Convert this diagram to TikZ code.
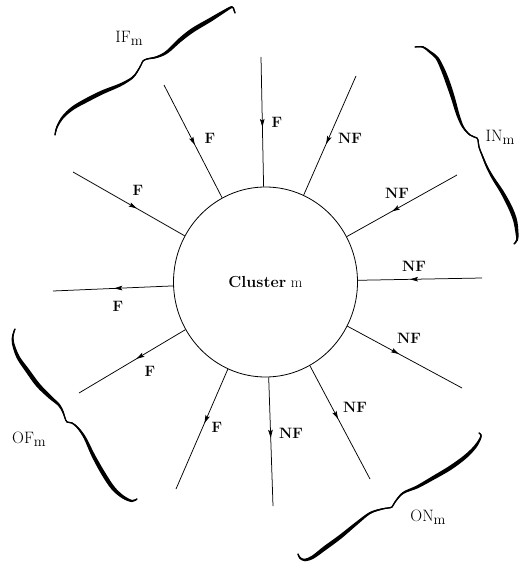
\documentclass[tikz,border=0pt]{standalone}
\usetikzlibrary{arrows.meta,decorations.markings,calc,shapes.geometric}

% ink-style curly brace: a filled stroke of varying half-width
% through the points x/y/halfwidth, plus a thin round-capped core
\newcommand\inkbrace[1]{%
  \foreach [count=\i] \bx/\by/\bw in {#1} {%
    \coordinate (bp\i) at (\bx,\by);
    \expandafter\xdef\csname inkw\i\endcsname{\bw}%
    \xdef\inkn{\i}%
  }%
  \gdef\inkL{}\gdef\inkR{}\gdef\inkC{}%
  \foreach \i in {1,...,\inkn} {%
    \pgfmathtruncatemacro\inknx{min(\i+1,\inkn)}%
    \pgfmathtruncatemacro\inkpv{max(\i-1,1)}%
    \edef\inkhw{\csname inkw\i\endcsname}%
    \coordinate (bt) at ($(bp\i)+(bp\inknx)-(bp\inkpv)$);
    \coordinate (bl\i) at ($(bp\i)!\inkhw pt!90:(bt)$);
    \coordinate (br\i) at ($(bp\i)!\inkhw pt!-90:(bt)$);
    \xdef\inkL{\inkL (bl\i)}%
    \xdef\inkR{(br\i) \inkR}%
    \xdef\inkC{\inkC (bp\i)}%
  }%
  \edef\inkcmd{%
    \noexpand\fill plot[smooth,tension=0.55] coordinates {\inkL}
      -- plot[smooth,tension=0.55] coordinates {\inkR} -- cycle;
    \noexpand\draw[line width=1.3pt,line cap=round,line join=round]
      plot[smooth,tension=0.55] coordinates {\inkC};}%
  \inkcmd
}

\tikzset{
  spoke/.style={line width=0.75pt, postaction={decorate},
    decoration={markings, mark=at position #1 with
      {\arrow{Stealth[length=8pt,width=4.6pt,inset=1.6pt]}}}},
  spoke/.default=0.5,
  tag/.style={font=\fontsize{15}{15}\selectfont\bfseries, inner sep=0pt},
  settag/.style={font=\fontsize{16.5}{16.5}\selectfont, inner sep=0pt},
}
\newcommand\subm{\raisebox{-0.45ex}{\fontsize{14.5}{14.5}\selectfont m}}

\begin{document}
\begin{tikzpicture}[x=1pt,y=-1pt]
\useasboundingbox (0,0) rectangle (523,564);

% the cluster
\node[ellipse, draw, line width=0.8pt, minimum width=184pt, minimum height=190pt,
      inner sep=0pt] (c) at (265.5,282)
  {\fontsize{16}{16}\selectfont\textbf{Cluster}~{\fontsize{15}{15}\selectfont m}};

% free ends of the spokes
\coordinate (o1) at (261,57);
\coordinate (o2) at (164,85);
\coordinate (o3) at (73,172);
\coordinate (o4) at (53,291);
\coordinate (o5) at (79,393);
\coordinate (o6) at (176,489);
\coordinate (o7) at (273,506);
\coordinate (o8) at (370,479);
\coordinate (o9) at (462,388);
\coordinate (o10) at (482,278);
\coordinate (o11) at (457,175);
\coordinate (o12) at (356,76);

% incoming spokes
\draw[spoke=0.54] (o1) -- (c);
\draw[spoke=0.53] (o2) -- (c);
\draw[spoke=0.57] (o3) -- (c);
\draw[spoke=0.58] (o10) -- (c);
\draw[spoke=0.59] (o11) -- (c);
\draw[spoke=0.57] (o12) -- (c);
% outgoing spokes
\draw[spoke=0.49] (c) -- (o4);
\draw[spoke=0.46] (c) -- (o5);
\draw[spoke=0.45] (c) -- (o6);
\draw[spoke=0.47] (c) -- (o7);
\draw[spoke=0.47] (c) -- (o8);
\draw[spoke=0.45] (c) -- (o9);

% spoke labels
\node[tag] (f1) at (277,122) {F};
\node[tag] (f2) at (210,138) {F};
\node[tag] (f3) at (138,190) {F};
\node[tag] (f4) at (118,306) {F};
\node[tag] (f5) at (150,371) {F};
\node[tag] (f6) at (217,427) {F};
\node[tag] (f7) at (291,433) {NF};
\node[tag] (f8) at (355,407) {NF};
\node[tag] (f9) at (409,338) {NF};
\node[tag] (f10) at (414,266) {NF};
\node[tag] (f11) at (397,193) {NF};
\node[tag] (f12) at (350,138) {NF};

% braces grouping the spokes
\inkbrace{55/135/0.5, 57/127/0.8, 63/117/1.3, 73/108/1.8, 87/100/2.1, 103/92/2.0,
  120/85/1.5, 132/78/1.0, 137/72/0.7, 141/65/0.5, 143/61/0.5, 147/59/0.6,
  157/57/1.0, 167/52/1.5, 180/40/2.0, 193/30/2.2, 210/20/2.0, 223/12/1.5,
  232/7/1.0, 234/10/0.6, 235/13/0.5}
\inkbrace{415/47/0.5, 423/47/0.8, 430/52/1.2, 437/58/1.6, 443/70/2.0, 448/83/2.2,
  453/98/2.0, 458/115/1.6, 463/127/1.0, 470/135/0.6, 477/138/0.5, 478/140/0.5,
  479/147/0.5, 482/155/0.7, 487/167/1.0, 493/178/1.4, 502/192/1.8, 510/207/2.1,
  515/220/2.0, 517/233/1.5, 517/240/1.0, 514/244/0.5}
\inkbrace{15/329/0.5, 13/335/0.8, 13/343/1.2, 18/357/1.7, 27/370/2.1, 38/385/2.2,
  50/397/1.8, 59/405/1.2, 63/412/0.8, 65/418/0.5, 67/422/0.5, 72/423/0.6,
  78/428/0.9, 85/438/1.3, 93/455/1.8, 103/473/2.1, 113/488/2.0, 123/497/1.6,
  132/501/1.1, 137/499/0.6}
\inkbrace{298/554/0.5, 300/558/0.9, 305/560/1.3, 313/557/1.7, 325/548/2.1,
  340/537/2.0, 357/523/1.5, 370/513/1.0, 382/509/0.7, 388/508/0.5, 392/507/0.5,
  395/502/0.6, 403/493/1.0, 417/487/1.5, 433/478/1.9, 450/468/2.1, 465/457/1.9,
  475/447/1.5, 480/439/1.0, 481/435/0.7, 479/433/0.5}

% brace labels
\node[settag] (inf) at (129,38) {IF\subm};
\node[settag] (inn) at (500,137) {IN\subm};
\node[settag] (outf) at (29,439) {OF\subm};
\node[settag] (outn) at (428,517) {ON\subm};
\end{tikzpicture}
\end{document}
